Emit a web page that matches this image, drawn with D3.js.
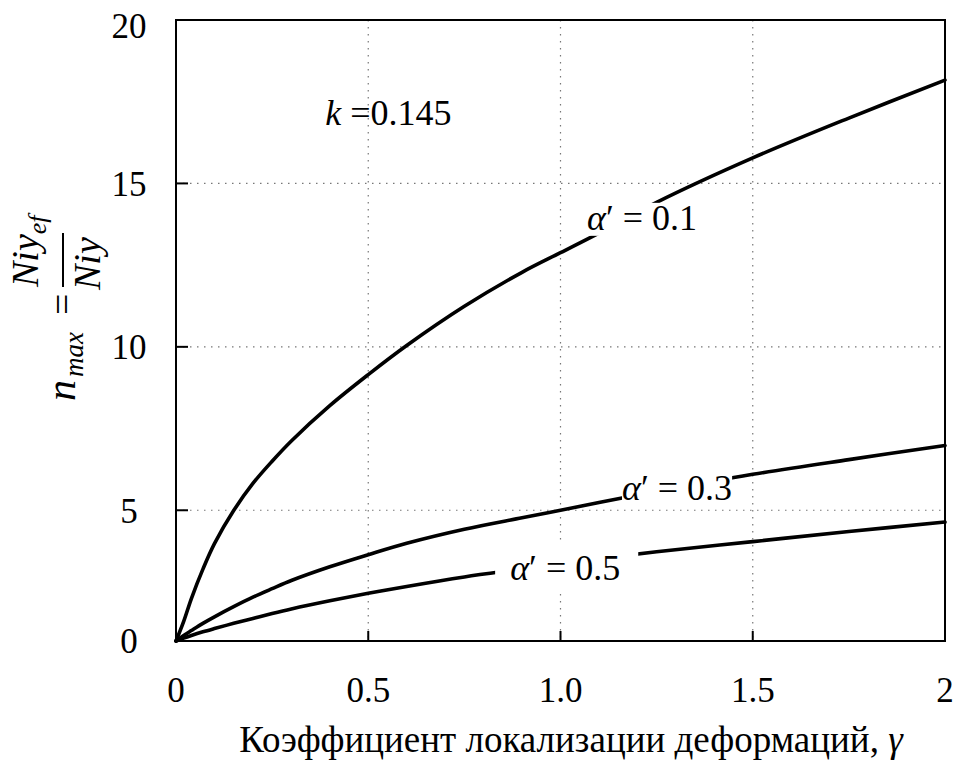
<!DOCTYPE html>
<html>
<head>
<meta charset="utf-8">
<script src="https://cdn.jsdelivr.net/npm/d3@7"></script>
<style>
  body { margin: 0; background: #fff; }
</style>
</head>
<body>
<svg id="chart" width="959" height="760"></svg>
<script>
// gamma values (x)
const gamma = [0, 0.02, 0.04, 0.07, 0.1, 0.15, 0.2, 0.25, 0.3, 0.4, 0.5, 0.6, 0.75, 0.9, 1.0, 1.1, 1.25, 1.5, 1.75, 2.0];
// n_max for each alpha'
const nAlpha01 = [1.0, 1.6, 2.3, 3.2, 3.98, 4.99, 5.82, 6.5, 7.12, 8.2, 9.15, 10.04, 11.24, 12.28, 12.88, 13.48, 14.42, 15.78, 17.0, 18.16];
const nAlpha03 = [1.0, 1.17, 1.32, 1.54, 1.74, 2.05, 2.34, 2.6, 2.85, 3.27, 3.64, 3.99, 4.42, 4.77, 5.0, 5.24, 5.58, 6.1, 6.55, 6.98];
const nAlpha05 = [1.0, 1.09, 1.17, 1.28, 1.38, 1.54, 1.69, 1.84, 1.98, 2.23, 2.46, 2.67, 2.96, 3.21, 3.38, 3.52, 3.73, 4.04, 4.35, 4.64];

const xTicks = [0, 0.5, 1.0, 1.5, 2];
const xTickLabels = ["0", "0.5", "1.0", "1.5", "2"];
const yTicks = [1, 5, 10, 15, 20];
const yTickLabels = ["0", "5", "10", "15", "20"];

// curve labels: alpha', anchor gamma, anchor n
const curveLabels = ["0.1", "0.3", "0.5"];
const labelGamma = [1.069, 1.16, 0.869];
const labelN = [13.58, 5.31, 2.87];

const series = [nAlpha01, nAlpha03, nAlpha05];

const width = 959, height = 760;
const margin = { top: 20, right: 14, bottom: 119, left: 176 };
const font = '"Liberation Serif", "Times New Roman", serif';

const svg = d3.select("#chart").style("font-family", font);

const x = d3.scaleLinear().domain([0, 2]).range([margin.left, width - margin.right]);
const y = d3.scaleLinear().domain([1, 20]).range([height - margin.bottom, margin.top]);

// grid
const grid = svg.append("g").attr("stroke", "#777").attr("stroke-width", 1.2).attr("stroke-dasharray", "1.5,5.5");
grid.selectAll(".gx").data(xTicks.slice(1, -1)).join("line")
  .attr("x1", d => x(d)).attr("x2", d => x(d))
  .attr("y1", y(20)).attr("y2", y(1));
grid.selectAll(".gy").data(yTicks.slice(1, -1)).join("line")
  .attr("y1", d => y(d)).attr("y2", d => y(d))
  .attr("x1", x(0)).attr("x2", x(2));

// curves
const line = d3.line()
  .x((d, i) => x(gamma[i]))
  .y(d => y(d))
  .curve(d3.curveCatmullRom.alpha(0.5));

svg.append("g").selectAll("path").data(series).join("path")
  .attr("d", d => line(d))
  .attr("fill", "none")
  .attr("stroke", "#000")
  .attr("stroke-width", 3.6)
  .attr("stroke-linecap", "round");

// curve labels with white box behind
const pads = [{ l: 2, r: 2, t: 0, b: -2 }, { l: 0, r: 0, t: 0, b: 0 }, { l: 15, r: 18, t: 8, b: 2 }];
curveLabels.forEach((lab, i) => {
  const g = svg.append("g");
  const rect = g.append("rect").attr("fill", "#fff");
  const t = g.append("text")
    .attr("x", x(labelGamma[i]))
    .attr("y", y(labelN[i]))
    .attr("font-size", 36);
  t.append("tspan").attr("font-style", "italic").text("α");
  t.append("tspan").text("′ = " + lab);
  const bb = t.node().getBBox();
  const p = pads[i];
  rect.attr("x", bb.x - p.l).attr("y", bb.y + 5 - p.t)
    .attr("width", bb.width + p.l + p.r).attr("height", bb.height - 5 + p.t + p.b);
});

// k label
const kt = svg.append("text")
  .attr("x", x(0.388)).attr("y", y(16.79))
  .attr("font-size", 36);
kt.append("tspan").attr("font-style", "italic").text("k");
kt.append("tspan").text(" =0.145");

// frame
svg.append("rect")
  .attr("x", x(0)).attr("y", y(20))
  .attr("width", x(2) - x(0)).attr("height", y(1) - y(20))
  .attr("fill", "none").attr("stroke", "#000").attr("stroke-width", 2);

// ticks (inward)
svg.append("g").selectAll("line").data(yTicks.slice(1, -1)).join("line")
  .attr("x1", x(0)).attr("x2", x(0) + 12)
  .attr("y1", d => y(d)).attr("y2", d => y(d))
  .attr("stroke", "#000").attr("stroke-width", 2);
svg.append("g").selectAll("line").data(xTicks.slice(1, -1)).join("line")
  .attr("x1", d => x(d)).attr("x2", d => x(d))
  .attr("y1", y(1)).attr("y2", y(1) - 10)
  .attr("stroke", "#000").attr("stroke-width", 2);

// tick labels
svg.append("g").selectAll("text").data(yTicks).join("text")
  .attr("x", 129)
  .attr("y", d => y(d))
  .attr("dy", (d, i) => i === yTicks.length - 1 ? "0.5em" : "0.35em")
  .attr("text-anchor", "middle")
  .attr("font-size", 35)
  .text((d, i) => yTickLabels[i]);

svg.append("g").selectAll("text").data(xTicks).join("text")
  .attr("x", d => x(d))
  .attr("y", 702)
  .attr("text-anchor", "middle")
  .attr("font-size", 35)
  .text((d, i) => xTickLabels[i]);

// x axis title
const xt = svg.append("text")
  .attr("x", 571).attr("y", 752)
  .attr("text-anchor", "middle")
  .attr("font-size", 37);
xt.append("tspan").text("Коэффициент локализации деформаций, ");
xt.append("tspan").attr("font-style", "italic").text("γ");

// y axis title: n_max = Niy_ef / Niy (rotated)
const yl = svg.append("g").attr("transform", "translate(75,405) rotate(-90)");
const nt = yl.append("text").attr("x", 4).attr("y", 0).attr("font-style", "italic").attr("font-size", 42);
nt.append("tspan").text("n");
nt.append("tspan").attr("dy", 8).attr("dx", 3).attr("font-size", 27).text("max");
yl.append("text").attr("x", 90).attr("y", 0).attr("font-size", 38).text("=");
yl.append("line").attr("x1", 118).attr("x2", 172).attr("y1", -12).attr("y2", -12)
  .attr("stroke", "#000").attr("stroke-width", 2);
const num = yl.append("text").attr("x", 118).attr("y", -37).attr("font-style", "italic").attr("font-size", 38);
num.append("tspan").text("Niy");
num.append("tspan").attr("dy", 8).attr("font-size", 26).text("ef");
yl.append("text").attr("x", 115).attr("y", 25).attr("font-style", "italic").attr("font-size", 38).text("Niy");
</script>
</body>
</html>
